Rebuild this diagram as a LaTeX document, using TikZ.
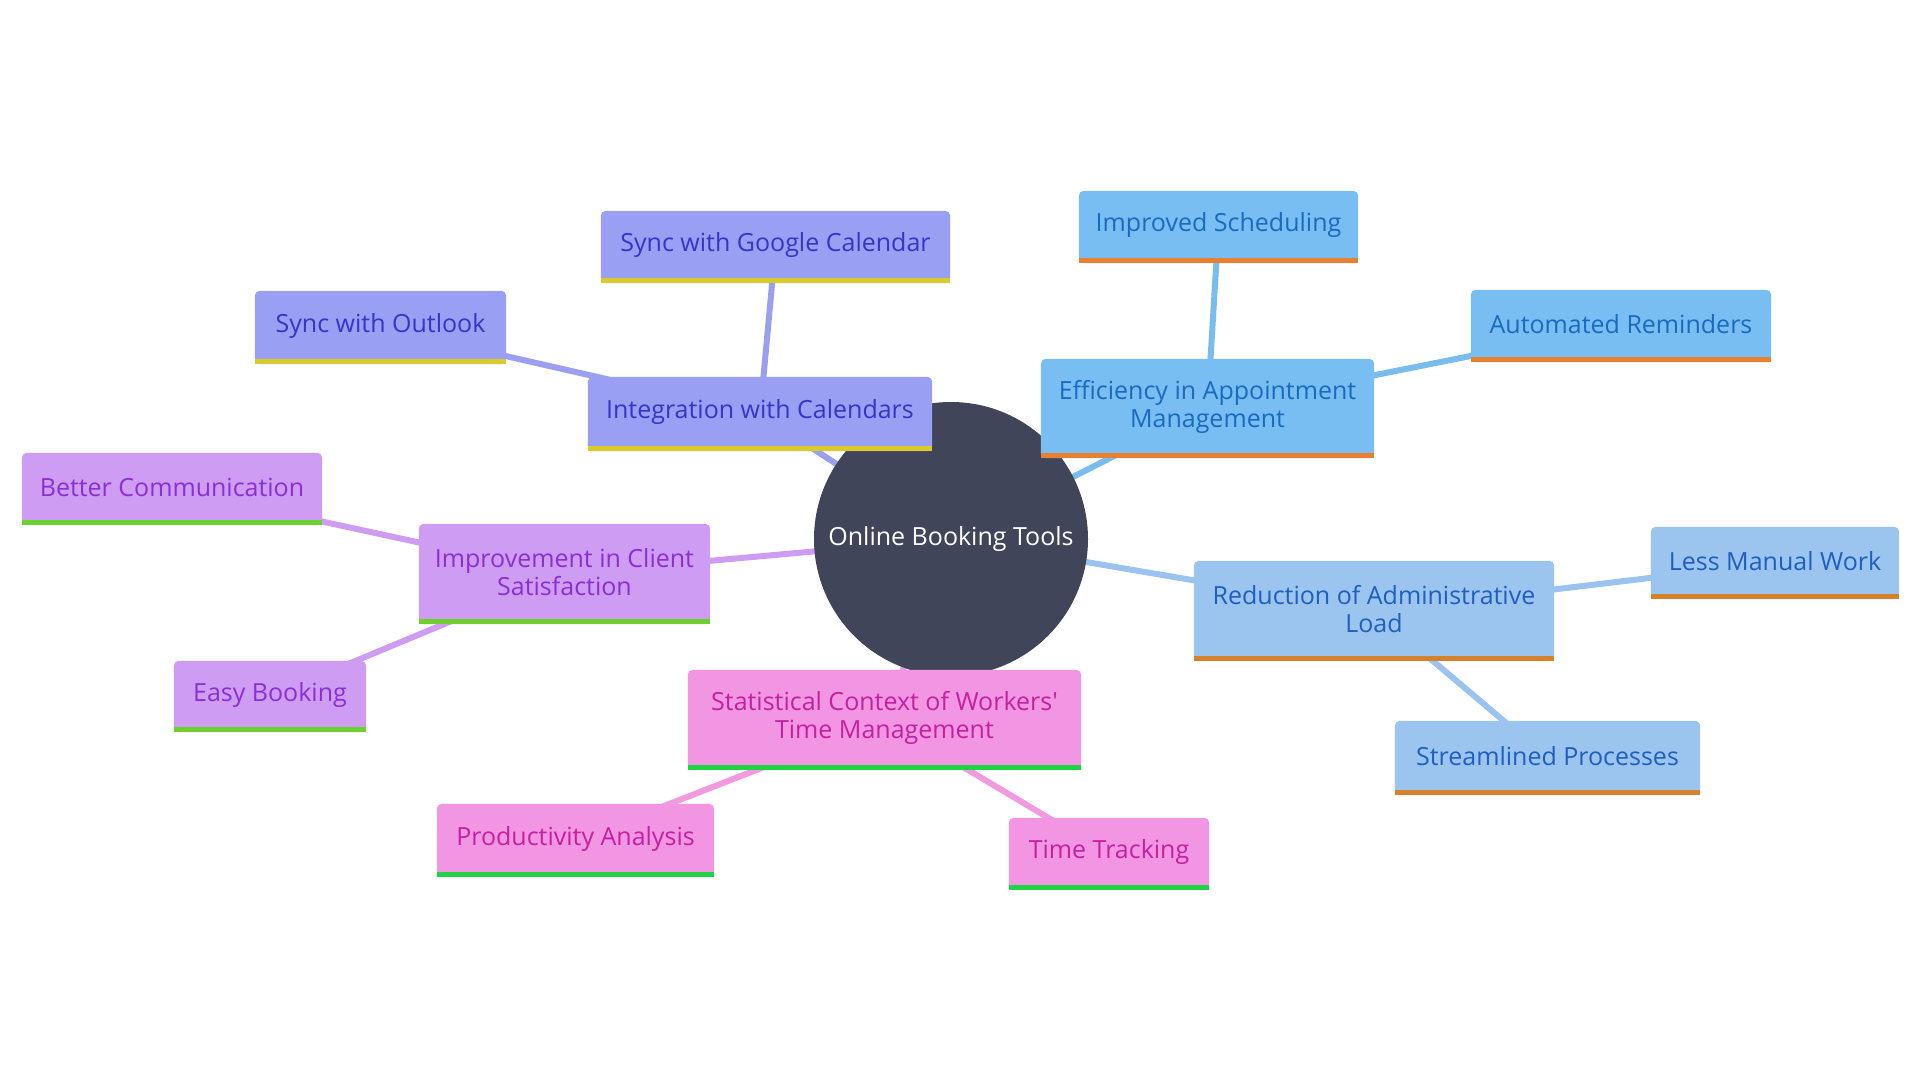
\documentclass[tikz,border=0pt]{standalone}
\usepackage{fontspec}
\setmainfont{Open Sans}
\pgfdeclarelayer{edges}\pgfdeclarelayer{boxes}
\pgfsetlayers{edges,boxes,main}
\definecolor{calF}{HTML}{999FF2}\definecolor{calT}{HTML}{3535C8}\definecolor{calB}{HTML}{D8CB2A}\definecolor{calE}{HTML}{9A9FEF}
\definecolor{effF}{HTML}{78BEF2}\definecolor{effT}{HTML}{1A6BC0}\definecolor{effB}{HTML}{E8802F}\definecolor{effE}{HTML}{79BDEE}
\definecolor{redF}{HTML}{9BC4EF}\definecolor{redT}{HTML}{1F5FBF}\definecolor{redB}{HTML}{D5832A}\definecolor{redE}{HTML}{9AC3EF}
\definecolor{impF}{HTML}{CE9CF2}\definecolor{impT}{HTML}{8A2FD4}\definecolor{impB}{HTML}{6CD12E}\definecolor{impE}{HTML}{CE9DF1}
\definecolor{staF}{HTML}{F296E3}\definecolor{staT}{HTML}{C4209F}\definecolor{staB}{HTML}{20D344}\definecolor{staE}{HTML}{F29AE0}
\definecolor{hubF}{HTML}{414559}
\tikzset{
  mmtext/.style={font=\fontsize{25}{28}\selectfont, align=center, inner sep=0pt, shape=rectangle},
  link/.style={line width=6pt}
}
\newcommand\mmbox[7]{%
  \node[mmtext, minimum width=#4pt, minimum height=#5pt] (#1) at (#2,#3) {};
  \node[mmtext, text=#6T] (#1-label) at ([yshift=2pt]#1.center) {#7};
  \begin{pgfonlayer}{boxes}
    \fill[#6F, rounded corners=5pt] (#1.south west) -- (#1.north west) -- (#1.north east) -- (#1.south east) -- cycle;
    \fill[#6B] (#1.south west) rectangle ([yshift=5pt]#1.south east);
  \end{pgfonlayer}}
\begin{document}
\begin{tikzpicture}[x=1pt,y=-1pt]
\begin{pgfonlayer}{edges}
  \fill[white] (0,0) rectangle (1920,1080);
\end{pgfonlayer}
\useasboundingbox (0,0) rectangle (1920,1080);
\node[circle, minimum size=274pt, inner sep=0pt, text=white, font=\fontsize{25}{28}\selectfont] (hub) at (951,539) {Online Booking Tools};
\begin{pgfonlayer}{boxes}
  \fill[hubF] (hub.center) circle (137pt);
\end{pgfonlayer}
\mmbox{google}{775.5}{247}{349}{72}{cal}{Sync with Google Calendar}
\mmbox{outlook}{380.5}{327.5}{251}{73}{cal}{Sync with Outlook}
\mmbox{integ}{760}{414}{344}{74}{cal}{Integration with Calendars}
\mmbox{sched}{1218.5}{227}{279}{72}{eff}{Improved Scheduling}
\mmbox{remind}{1621}{326}{300}{72}{eff}{Automated Reminders}
\mmbox{effic}{1207.5}{408.5}{333}{99}{eff}{Efficiency in Appointment\\Management}
\mmbox{better}{172}{489}{300}{72}{imp}{Better Communication}
\mmbox{improve}{564.5}{574}{291}{100}{imp}{Improvement in Client\\Satisfaction}
\mmbox{easy}{270}{696.5}{192}{71}{imp}{Easy Booking}
\mmbox{stat}{884.5}{720}{393}{100}{sta}{Statistical Context of Workers\textquotesingle\\Time Management}
\mmbox{prod}{575.5}{840.5}{277}{73}{sta}{Productivity Analysis}
\mmbox{time}{1109}{854}{200}{72}{sta}{Time Tracking}
\mmbox{reduce}{1374}{611}{360}{100}{red}{Reduction of Administrative\\Load}
\mmbox{less}{1775}{563}{248}{72}{red}{Less Manual Work}
\mmbox{stream}{1547.5}{758}{305}{74}{red}{Streamlined Processes}
\begin{pgfonlayer}{edges}
  \draw[link, calE] (hub.center) -- (integ.center);
  \draw[link, calE] (integ.center) -- (google.center);
  \draw[link, calE] (integ.center) -- (outlook.center);
  \draw[link, effE] (hub.center) -- (effic.center);
  \draw[link, effE] (effic.center) -- (sched.center);
  \draw[link, effE] (effic.center) -- (remind.center);
  \draw[link, redE] (hub.center) -- (reduce.center);
  \draw[link, redE] (reduce.center) -- (less.center);
  \draw[link, redE] (reduce.center) -- (stream.center);
  \draw[link, impE] (hub.center) -- (improve.center);
  \draw[link, impE] (improve.center) -- (better.center);
  \draw[link, impE] (improve.center) -- (easy.center);
  \draw[link, staE] (hub.center) -- (stat.center);
  \draw[link, staE] (stat.center) -- (prod.center);
  \draw[link, staE] (stat.center) -- (time.center);
\end{pgfonlayer}
\end{tikzpicture}
\end{document}
